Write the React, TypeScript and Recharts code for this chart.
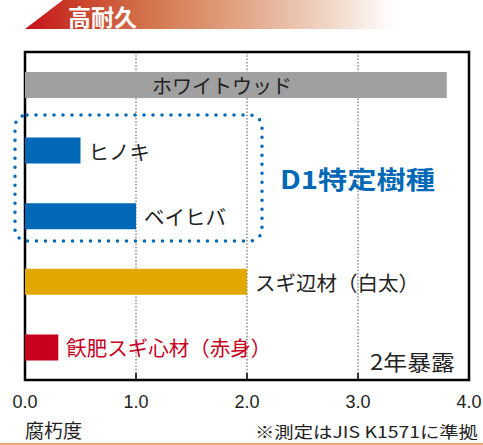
import React from 'react';
import { BarChart, Bar, XAxis, YAxis, CartesianGrid, ReferenceArea, LabelList, Cell } from 'recharts';

const categories = ['ホワイトウッド', 'ヒノキ', 'ベイヒバ', 'スギ辺材（白太）', '飫肥スギ心材（赤身）'];
const values = [3.8, 0.5, 1.0, 2.0, 0.3];
const barColors = ['#a0a0a0', '#0068b7', '#0068b7', '#e2a800', '#c8001e'];
const labelColors = ['#222', '#222', '#222', '#222', '#c8001e'];
const xTicks = [0, 1, 2, 3, 4];
const tickLabels = ['0.0', '1.0', '2.0', '3.0', '4.0'];

const data = categories.map((name, i) => ({ name, value: values[i] }));

const JP = '"Noto Sans CJK JP", "Noto Sans", sans-serif';

const AxisTick = (props: any) => {
  const { x, y, payload } = props;
  const i = xTicks.indexOf(payload.value);
  return (
    <g>
      <line x1={x} x2={x} y1={y - 7} y2={y} stroke="#000" strokeWidth={1.5} />
      <text x={x} y={y + 28} textAnchor="middle" fontSize={18} fontFamily='"Liberation Sans", Arial, sans-serif' fill="#222">
        {tickLabels[i]}
      </text>
    </g>
  );
};

const BarLabel = (props: any) => {
  const { x, y, width, height, value } = props;
  const i = categories.indexOf(value);
  const cy = Number(y) + Number(height) / 2;
  if (i === 0) {
    return (
      <text x={Number(x) + Number(width) / 2 - 14} y={cy} textAnchor="middle" dominantBaseline="central" fontSize={20} fontFamily={JP} fill={labelColors[i]}>
        {value}
      </text>
    );
  }
  return (
    <text x={Number(x) + Number(width) + 8} y={cy} textAnchor="start" dominantBaseline="central" fontSize={20.5} fontFamily={JP} fill={labelColors[i]}>
      {value}
    </text>
  );
};

export default function App() {
  return (
    <div style={{ position: 'absolute', left: 0, top: 0, width: 483, height: 445, background: '#fff' }}>
      <BarChart
        width={483}
        height={445}
        data={data}
        layout="vertical"
        margin={{ top: 52, right: 14, bottom: 35, left: 25 }}
        barCategoryGap={0}
      >
        <CartesianGrid horizontal={false} stroke="#8c8c8c" strokeWidth={1.5} strokeDasharray="1.5 1.8" />
        <XAxis
          type="number"
          domain={[0, 4]}
          ticks={xTicks}
          height={30}
          tickLine={false}
          axisLine={false}
          tickSize={0}
          tickMargin={0}
          tick={<AxisTick />}
          interval={0}
        />
        <YAxis type="category" dataKey="name" hide width={0} />
        <ReferenceArea x1={0} x2={4} fill="#fff" fillOpacity={0} stroke="#000" strokeWidth={2.5} ifOverflow="visible" />
        <Bar dataKey="value" barSize={26} isAnimationActive={false}>
          {data.map((d, i) => (
            <Cell key={d.name} fill={barColors[i]} />
          ))}
          <LabelList dataKey="name" content={<BarLabel />} />
        </Bar>
      </BarChart>
      <svg width={483} height={445} style={{ position: 'absolute', left: 0, top: 0, pointerEvents: 'none' }}>
        <defs>
          <linearGradient id="banner" x1="25" y1="0" x2="395" y2="0" gradientUnits="userSpaceOnUse">
            <stop offset="0" stopColor="#c5101c" />
            <stop offset="0.12" stopColor="#c83a28" />
            <stop offset="0.35" stopColor="#d4784e" />
            <stop offset="0.6" stopColor="#e2a88a" />
            <stop offset="0.82" stopColor="#f1d6c6" />
            <stop offset="1" stopColor="#ffffff" />
          </linearGradient>
        </defs>
        <polygon points="25,29 63,0 395,0 395,29" fill="url(#banner)" />
        <text x={68} y={26} fontSize={23} fontWeight={700} fontFamily={JP} fill="#fff" textLength={69} lengthAdjust="spacingAndGlyphs">高耐久</text>
        <rect x={15} y={115} width={247} height={126} rx={12} ry={12} fill="none" stroke="#0068b7" strokeWidth={3.5} strokeDasharray="0 9" strokeLinecap="round" />
        <text x={280} y={189} fontSize={25} fontWeight={700} fontFamily={JP} fill="#0068b7" textLength={155} lengthAdjust="spacingAndGlyphs">D1特定樹種</text>
        <text x={370} y={370} fontSize={21} fontFamily={JP} fill="#222" textLength={85} lengthAdjust="spacingAndGlyphs">2年暴露</text>
        <text x={25} y={438} fontSize={19} fontFamily={JP} fill="#222">腐朽度</text>
        <text x={255} y={438} fontSize={16} fontFamily={JP} fill="#222" textLength={223} lengthAdjust="spacingAndGlyphs">※測定はJIS K1571に準拠</text>
        <line x1={0} x2={483} y1={444} y2={444} stroke="#f0a878" strokeWidth={2} />
      </svg>
    </div>
  );
}
